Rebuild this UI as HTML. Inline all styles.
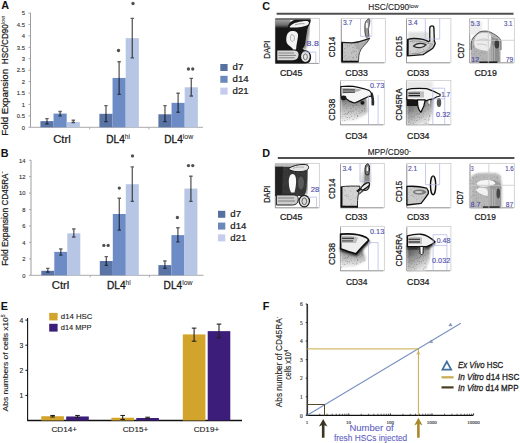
<!DOCTYPE html>
<html><head><meta charset="utf-8"><title>Figure</title>
<style>html,body{margin:0;padding:0;background:#fff;overflow:hidden;}svg{display:block;}
text{font-family:"Liberation Sans",sans-serif;paint-order:stroke;}</style></head>
<body>
<svg width="520" height="443" viewBox="0 0 520 443">
<rect width="520" height="443" fill="#fff"/>
<defs><filter id="sb" x="-50%" y="-50%" width="200%" height="200%"><feGaussianBlur stdDeviation="0.35"/></filter></defs>
<text x="1.20" y="8.90" font-size="10.8" fill="#111" font-weight="bold">A</text>
<text x="0.80" y="156.80" font-size="10.8" fill="#111" font-weight="bold">B</text>
<text x="262.20" y="10.00" font-size="10.8" fill="#111" font-weight="bold">C</text>
<text x="262.20" y="156.80" font-size="10.8" fill="#111" font-weight="bold">D</text>
<text x="0.80" y="310.20" font-size="10.8" fill="#111" font-weight="bold">E</text>
<text x="262.80" y="310.40" font-size="10.8" fill="#111" font-weight="bold">F</text>
<line x1="30.50" y1="12.90" x2="30.50" y2="127.30" stroke="#939393" stroke-width="0.9" />
<line x1="30.50" y1="127.30" x2="203.00" y2="127.30" stroke="#a0a0a0" stroke-width="0.9" />
<line x1="28.50" y1="127.30" x2="30.50" y2="127.30" stroke="#a0a0a0" stroke-width="0.9" />
<text x="24.90" y="129.60" font-size="5.8" fill="#333" stroke="#333" stroke-width="0.12" text-anchor="end">0</text>
<line x1="28.50" y1="115.88" x2="30.50" y2="115.88" stroke="#a0a0a0" stroke-width="0.9" />
<text x="24.90" y="118.17" font-size="5.8" fill="#333" stroke="#333" stroke-width="0.12" text-anchor="end">0.5</text>
<line x1="28.50" y1="104.45" x2="30.50" y2="104.45" stroke="#a0a0a0" stroke-width="0.9" />
<text x="24.90" y="106.75" font-size="5.8" fill="#333" stroke="#333" stroke-width="0.12" text-anchor="end">1</text>
<line x1="28.50" y1="93.02" x2="30.50" y2="93.02" stroke="#a0a0a0" stroke-width="0.9" />
<text x="24.90" y="95.32" font-size="5.8" fill="#333" stroke="#333" stroke-width="0.12" text-anchor="end">1.5</text>
<line x1="28.50" y1="81.60" x2="30.50" y2="81.60" stroke="#a0a0a0" stroke-width="0.9" />
<text x="24.90" y="83.90" font-size="5.8" fill="#333" stroke="#333" stroke-width="0.12" text-anchor="end">2</text>
<line x1="28.50" y1="70.17" x2="30.50" y2="70.17" stroke="#a0a0a0" stroke-width="0.9" />
<text x="24.90" y="72.47" font-size="5.8" fill="#333" stroke="#333" stroke-width="0.12" text-anchor="end">2.5</text>
<line x1="28.50" y1="58.75" x2="30.50" y2="58.75" stroke="#a0a0a0" stroke-width="0.9" />
<text x="24.90" y="61.05" font-size="5.8" fill="#333" stroke="#333" stroke-width="0.12" text-anchor="end">3</text>
<line x1="28.50" y1="47.32" x2="30.50" y2="47.32" stroke="#a0a0a0" stroke-width="0.9" />
<text x="24.90" y="49.62" font-size="5.8" fill="#333" stroke="#333" stroke-width="0.12" text-anchor="end">3.5</text>
<line x1="28.50" y1="35.90" x2="30.50" y2="35.90" stroke="#a0a0a0" stroke-width="0.9" />
<text x="24.90" y="38.20" font-size="5.8" fill="#333" stroke="#333" stroke-width="0.12" text-anchor="end">4</text>
<line x1="28.50" y1="24.47" x2="30.50" y2="24.47" stroke="#a0a0a0" stroke-width="0.9" />
<text x="24.90" y="26.77" font-size="5.8" fill="#333" stroke="#333" stroke-width="0.12" text-anchor="end">4.5</text>
<line x1="28.50" y1="13.05" x2="30.50" y2="13.05" stroke="#a0a0a0" stroke-width="0.9" />
<text x="24.90" y="15.35" font-size="5.8" fill="#333" stroke="#333" stroke-width="0.12" text-anchor="end">5</text>
<line x1="89.70" y1="127.30" x2="89.70" y2="129.30" stroke="#a0a0a0" stroke-width="0.9" />
<line x1="148.90" y1="127.30" x2="148.90" y2="129.30" stroke="#a0a0a0" stroke-width="0.9" />
<rect x="40.40" y="121.13" width="13.15" height="6.17" fill="#5b74a6" />
<rect x="53.55" y="113.59" width="13.15" height="13.71" fill="#6d8cc6" />
<rect x="66.70" y="122.04" width="13.15" height="5.26" fill="#b7c6e4" />
<rect x="99.40" y="113.82" width="13.15" height="13.48" fill="#5b74a6" />
<rect x="112.55" y="77.94" width="13.15" height="49.36" fill="#6d8cc6" />
<rect x="125.70" y="38.18" width="13.15" height="89.12" fill="#b7c6e4" />
<rect x="158.40" y="114.28" width="13.15" height="13.02" fill="#5b74a6" />
<rect x="171.55" y="102.85" width="13.15" height="24.45" fill="#6d8cc6" />
<rect x="184.70" y="87.31" width="13.15" height="39.99" fill="#b7c6e4" />
<path d="M46.98,118.62 L46.98,123.87 M45.27,118.62 L48.68,118.62 M45.27,123.87 L48.68,123.87" stroke="#000" stroke-opacity="0.62" stroke-width="1.35" fill="none"/>
<path d="M60.12,111.53 L60.12,115.88 M58.42,111.53 L61.83,111.53 M58.42,115.88 L61.83,115.88" stroke="#000" stroke-opacity="0.62" stroke-width="1.35" fill="none"/>
<path d="M73.28,120.22 L73.28,122.50 M71.58,120.22 L74.98,120.22 M71.58,122.50 L74.98,122.50" stroke="#000" stroke-opacity="0.62" stroke-width="1.35" fill="none"/>
<path d="M105.98,105.59 L105.98,121.59 M104.28,105.59 L107.68,105.59 M104.28,121.59 L107.68,121.59" stroke="#000" stroke-opacity="0.62" stroke-width="1.35" fill="none"/>
<path d="M119.13,61.72 L119.13,94.40 M117.43,61.72 L120.83,61.72 M117.43,94.40 L120.83,94.40" stroke="#000" stroke-opacity="0.62" stroke-width="1.35" fill="none"/>
<path d="M132.28,18.31 L132.28,57.84 M130.58,18.31 L133.97,18.31 M130.58,57.84 L133.97,57.84" stroke="#000" stroke-opacity="0.62" stroke-width="1.35" fill="none"/>
<path d="M164.97,105.59 L164.97,121.59 M163.28,105.59 L166.67,105.59 M163.28,121.59 L166.67,121.59" stroke="#000" stroke-opacity="0.62" stroke-width="1.35" fill="none"/>
<path d="M178.12,93.25 L178.12,112.22 M176.43,93.25 L179.82,93.25 M176.43,112.22 L179.82,112.22" stroke="#000" stroke-opacity="0.62" stroke-width="1.35" fill="none"/>
<path d="M191.28,78.40 L191.28,96.00 M189.58,78.40 L192.97,78.40 M189.58,96.00 L192.97,96.00" stroke="#000" stroke-opacity="0.62" stroke-width="1.35" fill="none"/>
<circle cx="118.50" cy="50.50" r="1.65" fill="#505050" filter="url(#sb)"/>
<circle cx="133.00" cy="3.50" r="1.65" fill="#505050" filter="url(#sb)"/>
<circle cx="188.45" cy="69.00" r="1.65" fill="#505050" filter="url(#sb)"/>
<circle cx="192.75" cy="69.00" r="1.65" fill="#505050" filter="url(#sb)"/>
<text x="53.20" y="142.60" font-size="10" fill="#1a1a1a" stroke="#1a1a1a" stroke-width="0.24" textLength="17.6" lengthAdjust="spacingAndGlyphs">Ctrl</text>
<text x="106.20" y="142.6" font-size="10" fill="#1a1a1a" stroke="#1a1a1a" stroke-width="0.3"><tspan textLength="18.6" lengthAdjust="spacingAndGlyphs">DL4</tspan><tspan font-size="6.6" dy="-4" stroke-width="0.05">hi</tspan></text>
<text x="164.20" y="142.6" font-size="10" fill="#1a1a1a" stroke="#1a1a1a" stroke-width="0.3"><tspan textLength="18.6" lengthAdjust="spacingAndGlyphs">DL4</tspan><tspan font-size="6.9" dy="-4" stroke-width="0.05">low</tspan></text>
<rect x="220.30" y="64.00" width="7.30" height="7.00" fill="#56709f" />
<text x="232.60" y="70.30" font-size="9.6" fill="#1a1a1a" stroke="#1a1a1a" stroke-width="0.24">d7</text>
<rect x="220.30" y="75.80" width="7.30" height="7.00" fill="#6b88bb" />
<text x="232.60" y="82.10" font-size="9.6" fill="#1a1a1a" stroke="#1a1a1a" stroke-width="0.24">d14</text>
<rect x="220.30" y="87.60" width="7.30" height="7.00" fill="#c6ccee" />
<text x="232.60" y="93.90" font-size="9.6" fill="#1a1a1a" stroke="#1a1a1a" stroke-width="0.24">d21</text>
<text transform="translate(7.70,135.80) rotate(-90)" font-size="9.2" fill="#1a1a1a" stroke="#1a1a1a" stroke-width="0.24" textLength="66.90" lengthAdjust="spacingAndGlyphs">Fold Expansion</text>
<text transform="translate(7.70,64.20) rotate(-90)" font-size="9.2" fill="#1a1a1a" stroke="#1a1a1a" stroke-width="0.24" textLength="40.00" lengthAdjust="spacingAndGlyphs">HSC/CD90</text>
<text transform="translate(4.60,23.90) rotate(-90)" font-size="5.6" fill="#1a1a1a" stroke="#1a1a1a" stroke-width="0.05" textLength="7.80" lengthAdjust="spacingAndGlyphs">low</text>
<line x1="31.00" y1="160.10" x2="31.00" y2="275.30" stroke="#939393" stroke-width="0.9" />
<line x1="31.00" y1="275.30" x2="203.50" y2="275.30" stroke="#a0a0a0" stroke-width="0.9" />
<line x1="29.00" y1="275.30" x2="31.00" y2="275.30" stroke="#a0a0a0" stroke-width="0.9" />
<text x="25.40" y="277.60" font-size="5.8" fill="#333" stroke="#333" stroke-width="0.12" text-anchor="end">0</text>
<line x1="29.00" y1="258.86" x2="31.00" y2="258.86" stroke="#a0a0a0" stroke-width="0.9" />
<text x="25.40" y="261.16" font-size="5.8" fill="#333" stroke="#333" stroke-width="0.12" text-anchor="end">2</text>
<line x1="29.00" y1="242.42" x2="31.00" y2="242.42" stroke="#a0a0a0" stroke-width="0.9" />
<text x="25.40" y="244.72" font-size="5.8" fill="#333" stroke="#333" stroke-width="0.12" text-anchor="end">4</text>
<line x1="29.00" y1="225.98" x2="31.00" y2="225.98" stroke="#a0a0a0" stroke-width="0.9" />
<text x="25.40" y="228.28" font-size="5.8" fill="#333" stroke="#333" stroke-width="0.12" text-anchor="end">6</text>
<line x1="29.00" y1="209.54" x2="31.00" y2="209.54" stroke="#a0a0a0" stroke-width="0.9" />
<text x="25.40" y="211.84" font-size="5.8" fill="#333" stroke="#333" stroke-width="0.12" text-anchor="end">8</text>
<line x1="29.00" y1="193.10" x2="31.00" y2="193.10" stroke="#a0a0a0" stroke-width="0.9" />
<text x="25.40" y="195.40" font-size="5.8" fill="#333" stroke="#333" stroke-width="0.12" text-anchor="end">10</text>
<line x1="29.00" y1="176.66" x2="31.00" y2="176.66" stroke="#a0a0a0" stroke-width="0.9" />
<text x="25.40" y="178.96" font-size="5.8" fill="#333" stroke="#333" stroke-width="0.12" text-anchor="end">12</text>
<line x1="29.00" y1="160.22" x2="31.00" y2="160.22" stroke="#a0a0a0" stroke-width="0.9" />
<text x="25.40" y="162.52" font-size="5.8" fill="#333" stroke="#333" stroke-width="0.12" text-anchor="end">14</text>
<line x1="90.20" y1="275.30" x2="90.20" y2="277.30" stroke="#a0a0a0" stroke-width="0.9" />
<line x1="149.40" y1="275.30" x2="149.40" y2="277.30" stroke="#a0a0a0" stroke-width="0.9" />
<rect x="41.30" y="270.78" width="13.00" height="4.52" fill="#5b74a6" />
<rect x="54.30" y="251.87" width="13.00" height="23.43" fill="#6d8cc6" />
<rect x="67.30" y="233.38" width="13.00" height="41.92" fill="#b7c6e4" />
<rect x="99.80" y="261.00" width="13.00" height="14.30" fill="#5b74a6" />
<rect x="112.80" y="213.98" width="13.00" height="61.32" fill="#6d8cc6" />
<rect x="125.80" y="184.22" width="13.00" height="91.08" fill="#b7c6e4" />
<rect x="158.40" y="265.11" width="13.00" height="10.19" fill="#5b74a6" />
<rect x="171.40" y="235.10" width="13.00" height="40.20" fill="#6d8cc6" />
<rect x="184.40" y="188.58" width="13.00" height="86.72" fill="#b7c6e4" />
<path d="M47.80,268.31 L47.80,272.09 M46.10,268.31 L49.50,268.31 M46.10,272.09 L49.50,272.09" stroke="#000" stroke-opacity="0.62" stroke-width="1.35" fill="none"/>
<path d="M60.80,249.00 L60.80,255.08 M59.10,249.00 L62.50,249.00 M59.10,255.08 L62.50,255.08" stroke="#000" stroke-opacity="0.62" stroke-width="1.35" fill="none"/>
<path d="M73.80,229.02 L73.80,236.99 M72.10,229.02 L75.50,229.02 M72.10,236.99 L75.50,236.99" stroke="#000" stroke-opacity="0.62" stroke-width="1.35" fill="none"/>
<path d="M106.30,256.56 L106.30,265.44 M104.60,256.56 L108.00,256.56 M104.60,265.44 L108.00,265.44" stroke="#000" stroke-opacity="0.62" stroke-width="1.35" fill="none"/>
<path d="M119.30,198.28 L119.30,230.09 M117.60,198.28 L121.00,198.28 M117.60,230.09 L121.00,230.09" stroke="#000" stroke-opacity="0.62" stroke-width="1.35" fill="none"/>
<path d="M132.30,166.80 L132.30,201.32 M130.60,166.80 L134.00,166.80 M130.60,201.32 L134.00,201.32" stroke="#000" stroke-opacity="0.62" stroke-width="1.35" fill="none"/>
<path d="M164.90,261.00 L164.90,268.40 M163.20,261.00 L166.60,261.00 M163.20,268.40 L166.60,268.40" stroke="#000" stroke-opacity="0.62" stroke-width="1.35" fill="none"/>
<path d="M177.90,227.79 L177.90,241.84 M176.20,227.79 L179.60,227.79 M176.20,241.84 L179.60,241.84" stroke="#000" stroke-opacity="0.62" stroke-width="1.35" fill="none"/>
<path d="M190.90,176.25 L190.90,201.32 M189.20,176.25 L192.60,176.25 M189.20,201.32 L192.60,201.32" stroke="#000" stroke-opacity="0.62" stroke-width="1.35" fill="none"/>
<circle cx="103.85" cy="245.40" r="1.65" fill="#505050" filter="url(#sb)"/>
<circle cx="108.15" cy="245.40" r="1.65" fill="#505050" filter="url(#sb)"/>
<circle cx="119.30" cy="188.10" r="1.65" fill="#505050" filter="url(#sb)"/>
<circle cx="132.50" cy="155.90" r="1.65" fill="#505050" filter="url(#sb)"/>
<circle cx="177.40" cy="217.50" r="1.65" fill="#505050" filter="url(#sb)"/>
<circle cx="188.45" cy="165.60" r="1.65" fill="#505050" filter="url(#sb)"/>
<circle cx="192.75" cy="165.60" r="1.65" fill="#505050" filter="url(#sb)"/>
<text x="51.80" y="288.90" font-size="10" fill="#1a1a1a" stroke="#1a1a1a" stroke-width="0.24" textLength="17.6" lengthAdjust="spacingAndGlyphs">Ctrl</text>
<text x="107.00" y="288.9" font-size="10" fill="#1a1a1a" stroke="#1a1a1a" stroke-width="0.3"><tspan textLength="18.6" lengthAdjust="spacingAndGlyphs">DL4</tspan><tspan font-size="6.6" dy="-4" stroke-width="0.05">hi</tspan></text>
<text x="163.60" y="288.9" font-size="10" fill="#1a1a1a" stroke="#1a1a1a" stroke-width="0.3"><tspan textLength="18.6" lengthAdjust="spacingAndGlyphs">DL4</tspan><tspan font-size="6.9" dy="-4" stroke-width="0.05">low</tspan></text>
<rect x="218.00" y="210.80" width="7.30" height="7.00" fill="#56709f" />
<text x="230.30" y="217.10" font-size="9.6" fill="#1a1a1a" stroke="#1a1a1a" stroke-width="0.24">d7</text>
<rect x="218.00" y="222.60" width="7.30" height="7.00" fill="#6b88bb" />
<text x="230.30" y="228.90" font-size="9.6" fill="#1a1a1a" stroke="#1a1a1a" stroke-width="0.24">d14</text>
<rect x="218.00" y="234.40" width="7.30" height="7.00" fill="#c6ccee" />
<text x="230.30" y="240.70" font-size="9.6" fill="#1a1a1a" stroke="#1a1a1a" stroke-width="0.24">d21</text>
<text transform="translate(7.50,265.80) rotate(-90)" font-size="8.6" fill="#1a1a1a" stroke="#1a1a1a" stroke-width="0.24" textLength="58.00" lengthAdjust="spacingAndGlyphs">Fold Expansion</text>
<text transform="translate(7.50,205.40) rotate(-90)" font-size="8.6" fill="#1a1a1a" stroke="#1a1a1a" stroke-width="0.24" textLength="31.80" lengthAdjust="spacingAndGlyphs">CD45RA</text>
<text transform="translate(4.20,173.60) rotate(-90)" font-size="5.6" fill="#1a1a1a" stroke="#1a1a1a" stroke-width="0.05" textLength="2.60" lengthAdjust="spacingAndGlyphs">-</text>
<line x1="27.60" y1="318.00" x2="27.60" y2="420.50" stroke="#111" stroke-width="1.1" />
<line x1="27.10" y1="420.50" x2="242.00" y2="420.50" stroke="#111" stroke-width="1.4" />
<line x1="25.40" y1="395.40" x2="27.60" y2="395.40" stroke="#111" stroke-width="1" />
<text x="23.40" y="397.80" font-size="6.8" fill="#222" stroke="#222" stroke-width="0.12" text-anchor="end">1</text>
<line x1="25.40" y1="370.30" x2="27.60" y2="370.30" stroke="#111" stroke-width="1" />
<text x="23.40" y="372.70" font-size="6.8" fill="#222" stroke="#222" stroke-width="0.12" text-anchor="end">2</text>
<line x1="25.40" y1="345.20" x2="27.60" y2="345.20" stroke="#111" stroke-width="1" />
<text x="23.40" y="347.60" font-size="6.8" fill="#222" stroke="#222" stroke-width="0.12" text-anchor="end">3</text>
<line x1="25.40" y1="320.10" x2="27.60" y2="320.10" stroke="#111" stroke-width="1" />
<text x="23.40" y="322.50" font-size="6.8" fill="#222" stroke="#222" stroke-width="0.12" text-anchor="end">4</text>
<rect x="41.30" y="416.23" width="22.60" height="4.27" fill="#d2a42b" />
<rect x="66.20" y="416.48" width="22.60" height="4.02" fill="#3c1d7a" />
<rect x="111.40" y="417.74" width="22.60" height="2.76" fill="#d2a42b" />
<rect x="136.30" y="417.99" width="22.60" height="2.51" fill="#3c1d7a" />
<rect x="182.80" y="334.41" width="22.60" height="86.09" fill="#d2a42b" />
<rect x="207.70" y="331.14" width="22.60" height="89.36" fill="#3c1d7a" />
<line x1="52.60" y1="415.48" x2="52.60" y2="416.99" stroke="#222" stroke-width="1.1" />
<line x1="50.30" y1="415.48" x2="54.90" y2="415.48" stroke="#222" stroke-width="1.1" />
<line x1="50.30" y1="416.99" x2="54.90" y2="416.99" stroke="#222" stroke-width="1.1" />
<line x1="77.50" y1="415.48" x2="77.50" y2="417.49" stroke="#222" stroke-width="1.1" />
<line x1="75.20" y1="415.48" x2="79.80" y2="415.48" stroke="#222" stroke-width="1.1" />
<line x1="75.20" y1="417.49" x2="79.80" y2="417.49" stroke="#222" stroke-width="1.1" />
<line x1="122.70" y1="415.48" x2="122.70" y2="419.50" stroke="#222" stroke-width="1.1" />
<line x1="120.40" y1="415.48" x2="125.00" y2="415.48" stroke="#222" stroke-width="1.1" />
<line x1="120.40" y1="419.50" x2="125.00" y2="419.50" stroke="#222" stroke-width="1.1" />
<line x1="147.60" y1="417.24" x2="147.60" y2="418.74" stroke="#222" stroke-width="1.1" />
<line x1="145.30" y1="417.24" x2="149.90" y2="417.24" stroke="#222" stroke-width="1.1" />
<line x1="145.30" y1="418.74" x2="149.90" y2="418.74" stroke="#222" stroke-width="1.1" />
<line x1="194.10" y1="328.13" x2="194.10" y2="341.18" stroke="#222" stroke-width="1.1" />
<line x1="191.80" y1="328.13" x2="196.40" y2="328.13" stroke="#222" stroke-width="1.1" />
<line x1="191.80" y1="341.18" x2="196.40" y2="341.18" stroke="#222" stroke-width="1.1" />
<line x1="219.00" y1="324.12" x2="219.00" y2="337.67" stroke="#222" stroke-width="1.1" />
<line x1="216.70" y1="324.12" x2="221.30" y2="324.12" stroke="#222" stroke-width="1.1" />
<line x1="216.70" y1="337.67" x2="221.30" y2="337.67" stroke="#222" stroke-width="1.1" />
<text x="64.20" y="432.20" font-size="7.0" fill="#1a1a1a" stroke="#1a1a1a" stroke-width="0.12" text-anchor="middle" textLength="25.5" lengthAdjust="spacingAndGlyphs">CD14+</text>
<text x="135.50" y="432.20" font-size="7.0" fill="#1a1a1a" stroke="#1a1a1a" stroke-width="0.12" text-anchor="middle" textLength="25.5" lengthAdjust="spacingAndGlyphs">CD15+</text>
<text x="206.40" y="432.20" font-size="7.0" fill="#1a1a1a" stroke="#1a1a1a" stroke-width="0.12" text-anchor="middle" textLength="25.5" lengthAdjust="spacingAndGlyphs">CD19+</text>
<rect x="49.20" y="312.90" width="8.40" height="7.50" fill="#d2a42b" />
<rect x="49.20" y="323.80" width="8.40" height="7.80" fill="#3c1d7a" />
<text x="60.80" y="319.00" font-size="7.6" fill="#1a1a1a" stroke="#1a1a1a" stroke-width="0.12" textLength="31.6" lengthAdjust="spacingAndGlyphs">d14 HSC</text>
<text x="60.80" y="330.00" font-size="7.6" fill="#1a1a1a" stroke="#1a1a1a" stroke-width="0.12" textLength="30.6" lengthAdjust="spacingAndGlyphs">d14 MPP</text>
<text transform="translate(8.20,362.90) rotate(-90)" font-size="8.0" fill="#1a1a1a" stroke="#1a1a1a" stroke-width="0.12" text-anchor="middle" textLength="97" lengthAdjust="spacingAndGlyphs">Abs numbers of cells x10<tspan font-size="4.8" dy="-3">5</tspan></text>
<line x1="307.20" y1="304.10" x2="307.20" y2="415.30" stroke="#111" stroke-width="1.3" />
<line x1="307.20" y1="413.44" x2="308.40" y2="413.44" stroke="#333" stroke-width="0.4" />
<line x1="307.20" y1="411.59" x2="308.40" y2="411.59" stroke="#333" stroke-width="0.4" />
<line x1="307.20" y1="409.74" x2="308.40" y2="409.74" stroke="#333" stroke-width="0.4" />
<line x1="307.20" y1="407.88" x2="308.40" y2="407.88" stroke="#333" stroke-width="0.4" />
<line x1="307.20" y1="406.03" x2="308.40" y2="406.03" stroke="#333" stroke-width="0.4" />
<line x1="307.20" y1="404.17" x2="308.40" y2="404.17" stroke="#333" stroke-width="0.4" />
<line x1="307.20" y1="402.31" x2="308.40" y2="402.31" stroke="#333" stroke-width="0.4" />
<line x1="307.20" y1="400.46" x2="308.40" y2="400.46" stroke="#333" stroke-width="0.4" />
<line x1="307.20" y1="398.61" x2="308.40" y2="398.61" stroke="#333" stroke-width="0.4" />
<line x1="307.20" y1="396.75" x2="308.40" y2="396.75" stroke="#333" stroke-width="0.4" />
<line x1="307.20" y1="394.89" x2="308.40" y2="394.89" stroke="#333" stroke-width="0.4" />
<line x1="307.20" y1="393.04" x2="308.40" y2="393.04" stroke="#333" stroke-width="0.4" />
<line x1="307.20" y1="391.19" x2="308.40" y2="391.19" stroke="#333" stroke-width="0.4" />
<line x1="307.20" y1="389.33" x2="308.40" y2="389.33" stroke="#333" stroke-width="0.4" />
<line x1="307.20" y1="387.48" x2="308.40" y2="387.48" stroke="#333" stroke-width="0.4" />
<line x1="307.20" y1="385.62" x2="308.40" y2="385.62" stroke="#333" stroke-width="0.4" />
<line x1="307.20" y1="383.76" x2="308.40" y2="383.76" stroke="#333" stroke-width="0.4" />
<line x1="307.20" y1="381.91" x2="308.40" y2="381.91" stroke="#333" stroke-width="0.4" />
<line x1="307.20" y1="380.06" x2="308.40" y2="380.06" stroke="#333" stroke-width="0.4" />
<line x1="307.20" y1="378.20" x2="308.40" y2="378.20" stroke="#333" stroke-width="0.4" />
<line x1="307.20" y1="376.35" x2="308.40" y2="376.35" stroke="#333" stroke-width="0.4" />
<line x1="307.20" y1="374.49" x2="308.40" y2="374.49" stroke="#333" stroke-width="0.4" />
<line x1="307.20" y1="372.63" x2="308.40" y2="372.63" stroke="#333" stroke-width="0.4" />
<line x1="307.20" y1="370.78" x2="308.40" y2="370.78" stroke="#333" stroke-width="0.4" />
<line x1="307.20" y1="368.93" x2="308.40" y2="368.93" stroke="#333" stroke-width="0.4" />
<line x1="307.20" y1="367.07" x2="308.40" y2="367.07" stroke="#333" stroke-width="0.4" />
<line x1="307.20" y1="365.22" x2="308.40" y2="365.22" stroke="#333" stroke-width="0.4" />
<line x1="307.20" y1="363.36" x2="308.40" y2="363.36" stroke="#333" stroke-width="0.4" />
<line x1="307.20" y1="361.50" x2="308.40" y2="361.50" stroke="#333" stroke-width="0.4" />
<line x1="307.20" y1="359.65" x2="308.40" y2="359.65" stroke="#333" stroke-width="0.4" />
<line x1="307.20" y1="357.80" x2="308.40" y2="357.80" stroke="#333" stroke-width="0.4" />
<line x1="307.20" y1="355.94" x2="308.40" y2="355.94" stroke="#333" stroke-width="0.4" />
<line x1="307.20" y1="354.09" x2="308.40" y2="354.09" stroke="#333" stroke-width="0.4" />
<line x1="307.20" y1="352.23" x2="308.40" y2="352.23" stroke="#333" stroke-width="0.4" />
<line x1="307.20" y1="350.38" x2="308.40" y2="350.38" stroke="#333" stroke-width="0.4" />
<line x1="307.20" y1="348.52" x2="308.40" y2="348.52" stroke="#333" stroke-width="0.4" />
<line x1="307.20" y1="346.67" x2="308.40" y2="346.67" stroke="#333" stroke-width="0.4" />
<line x1="307.20" y1="344.81" x2="308.40" y2="344.81" stroke="#333" stroke-width="0.4" />
<line x1="307.20" y1="342.96" x2="308.40" y2="342.96" stroke="#333" stroke-width="0.4" />
<line x1="307.20" y1="341.10" x2="308.40" y2="341.10" stroke="#333" stroke-width="0.4" />
<line x1="307.20" y1="339.25" x2="308.40" y2="339.25" stroke="#333" stroke-width="0.4" />
<line x1="307.20" y1="337.39" x2="308.40" y2="337.39" stroke="#333" stroke-width="0.4" />
<line x1="307.20" y1="335.54" x2="308.40" y2="335.54" stroke="#333" stroke-width="0.4" />
<line x1="307.20" y1="333.68" x2="308.40" y2="333.68" stroke="#333" stroke-width="0.4" />
<line x1="307.20" y1="331.83" x2="308.40" y2="331.83" stroke="#333" stroke-width="0.4" />
<line x1="307.20" y1="329.97" x2="308.40" y2="329.97" stroke="#333" stroke-width="0.4" />
<line x1="307.20" y1="328.12" x2="308.40" y2="328.12" stroke="#333" stroke-width="0.4" />
<line x1="307.20" y1="326.26" x2="308.40" y2="326.26" stroke="#333" stroke-width="0.4" />
<line x1="307.20" y1="324.40" x2="308.40" y2="324.40" stroke="#333" stroke-width="0.4" />
<line x1="307.20" y1="322.55" x2="308.40" y2="322.55" stroke="#333" stroke-width="0.4" />
<line x1="307.20" y1="320.69" x2="308.40" y2="320.69" stroke="#333" stroke-width="0.4" />
<line x1="307.20" y1="318.84" x2="308.40" y2="318.84" stroke="#333" stroke-width="0.4" />
<line x1="307.20" y1="316.99" x2="308.40" y2="316.99" stroke="#333" stroke-width="0.4" />
<line x1="307.20" y1="315.13" x2="308.40" y2="315.13" stroke="#333" stroke-width="0.4" />
<line x1="307.20" y1="313.27" x2="308.40" y2="313.27" stroke="#333" stroke-width="0.4" />
<line x1="307.20" y1="311.42" x2="308.40" y2="311.42" stroke="#333" stroke-width="0.4" />
<line x1="307.20" y1="309.56" x2="308.40" y2="309.56" stroke="#333" stroke-width="0.4" />
<line x1="307.20" y1="307.71" x2="308.40" y2="307.71" stroke="#333" stroke-width="0.4" />
<line x1="307.20" y1="305.86" x2="308.40" y2="305.86" stroke="#333" stroke-width="0.4" />
<line x1="306.60" y1="415.30" x2="473.30" y2="415.30" stroke="#111" stroke-width="1.3" />
<line x1="305.70" y1="415.30" x2="307.20" y2="415.30" stroke="#111" stroke-width="0.8" />
<text x="302.80" y="417.50" font-size="5.4" fill="#333" stroke="#333" stroke-width="0.15" text-anchor="end" style="font-family:&quot;Liberation Serif&quot;,serif">0</text>
<line x1="305.70" y1="396.75" x2="307.20" y2="396.75" stroke="#111" stroke-width="0.8" />
<text x="302.80" y="398.95" font-size="5.4" fill="#333" stroke="#333" stroke-width="0.15" text-anchor="end" style="font-family:&quot;Liberation Serif&quot;,serif">1</text>
<line x1="305.70" y1="378.20" x2="307.20" y2="378.20" stroke="#111" stroke-width="0.8" />
<text x="302.80" y="380.40" font-size="5.4" fill="#333" stroke="#333" stroke-width="0.15" text-anchor="end" style="font-family:&quot;Liberation Serif&quot;,serif">2</text>
<line x1="305.70" y1="359.65" x2="307.20" y2="359.65" stroke="#111" stroke-width="0.8" />
<text x="302.80" y="361.85" font-size="5.4" fill="#333" stroke="#333" stroke-width="0.15" text-anchor="end" style="font-family:&quot;Liberation Serif&quot;,serif">3</text>
<line x1="305.70" y1="341.10" x2="307.20" y2="341.10" stroke="#111" stroke-width="0.8" />
<text x="302.80" y="343.30" font-size="5.4" fill="#333" stroke="#333" stroke-width="0.15" text-anchor="end" style="font-family:&quot;Liberation Serif&quot;,serif">4</text>
<line x1="305.70" y1="322.55" x2="307.20" y2="322.55" stroke="#111" stroke-width="0.8" />
<text x="302.80" y="324.75" font-size="5.4" fill="#333" stroke="#333" stroke-width="0.15" text-anchor="end" style="font-family:&quot;Liberation Serif&quot;,serif">5</text>
<line x1="305.70" y1="304.00" x2="307.20" y2="304.00" stroke="#111" stroke-width="0.8" />
<text x="302.80" y="306.20" font-size="5.4" fill="#333" stroke="#333" stroke-width="0.15" text-anchor="end" style="font-family:&quot;Liberation Serif&quot;,serif">6</text>
<line x1="319.72" y1="413.70" x2="319.72" y2="415.30" stroke="#111" stroke-width="0.6" />
<line x1="327.05" y1="413.70" x2="327.05" y2="415.30" stroke="#111" stroke-width="0.6" />
<line x1="332.25" y1="413.70" x2="332.25" y2="415.30" stroke="#111" stroke-width="0.6" />
<line x1="336.28" y1="413.70" x2="336.28" y2="415.30" stroke="#111" stroke-width="0.6" />
<line x1="339.57" y1="413.70" x2="339.57" y2="415.30" stroke="#111" stroke-width="0.6" />
<line x1="342.36" y1="413.70" x2="342.36" y2="415.30" stroke="#111" stroke-width="0.6" />
<line x1="344.77" y1="413.70" x2="344.77" y2="415.30" stroke="#111" stroke-width="0.6" />
<line x1="346.90" y1="413.70" x2="346.90" y2="415.30" stroke="#111" stroke-width="0.6" />
<line x1="361.32" y1="413.70" x2="361.32" y2="415.30" stroke="#111" stroke-width="0.6" />
<line x1="368.65" y1="413.70" x2="368.65" y2="415.30" stroke="#111" stroke-width="0.6" />
<line x1="373.85" y1="413.70" x2="373.85" y2="415.30" stroke="#111" stroke-width="0.6" />
<line x1="377.88" y1="413.70" x2="377.88" y2="415.30" stroke="#111" stroke-width="0.6" />
<line x1="381.17" y1="413.70" x2="381.17" y2="415.30" stroke="#111" stroke-width="0.6" />
<line x1="383.96" y1="413.70" x2="383.96" y2="415.30" stroke="#111" stroke-width="0.6" />
<line x1="386.37" y1="413.70" x2="386.37" y2="415.30" stroke="#111" stroke-width="0.6" />
<line x1="388.50" y1="413.70" x2="388.50" y2="415.30" stroke="#111" stroke-width="0.6" />
<line x1="402.92" y1="413.70" x2="402.92" y2="415.30" stroke="#111" stroke-width="0.6" />
<line x1="410.25" y1="413.70" x2="410.25" y2="415.30" stroke="#111" stroke-width="0.6" />
<line x1="415.45" y1="413.70" x2="415.45" y2="415.30" stroke="#111" stroke-width="0.6" />
<line x1="419.48" y1="413.70" x2="419.48" y2="415.30" stroke="#111" stroke-width="0.6" />
<line x1="422.77" y1="413.70" x2="422.77" y2="415.30" stroke="#111" stroke-width="0.6" />
<line x1="425.56" y1="413.70" x2="425.56" y2="415.30" stroke="#111" stroke-width="0.6" />
<line x1="427.97" y1="413.70" x2="427.97" y2="415.30" stroke="#111" stroke-width="0.6" />
<line x1="430.10" y1="413.70" x2="430.10" y2="415.30" stroke="#111" stroke-width="0.6" />
<line x1="444.52" y1="413.70" x2="444.52" y2="415.30" stroke="#111" stroke-width="0.6" />
<line x1="451.85" y1="413.70" x2="451.85" y2="415.30" stroke="#111" stroke-width="0.6" />
<line x1="457.05" y1="413.70" x2="457.05" y2="415.30" stroke="#111" stroke-width="0.6" />
<line x1="461.08" y1="413.70" x2="461.08" y2="415.30" stroke="#111" stroke-width="0.6" />
<line x1="464.37" y1="413.70" x2="464.37" y2="415.30" stroke="#111" stroke-width="0.6" />
<line x1="467.16" y1="413.70" x2="467.16" y2="415.30" stroke="#111" stroke-width="0.6" />
<line x1="469.57" y1="413.70" x2="469.57" y2="415.30" stroke="#111" stroke-width="0.6" />
<line x1="471.70" y1="413.70" x2="471.70" y2="415.30" stroke="#111" stroke-width="0.6" />
<line x1="307.20" y1="413.30" x2="307.20" y2="415.30" stroke="#111" stroke-width="0.8" />
<text x="307.00" y="423.8" font-size="5.0" fill="#333" stroke="#333" stroke-width="0.12" text-anchor="middle" style="font-family:&quot;Liberation Serif&quot;,serif">1</text>
<line x1="348.80" y1="413.30" x2="348.80" y2="415.30" stroke="#111" stroke-width="0.8" />
<text x="348.60" y="423.8" font-size="5.0" fill="#333" stroke="#333" stroke-width="0.12" text-anchor="middle" style="font-family:&quot;Liberation Serif&quot;,serif">10</text>
<line x1="390.40" y1="413.30" x2="390.40" y2="415.30" stroke="#111" stroke-width="0.8" />
<text x="390.20" y="423.8" font-size="5.0" fill="#333" stroke="#333" stroke-width="0.12" text-anchor="middle" style="font-family:&quot;Liberation Serif&quot;,serif">100</text>
<line x1="432.00" y1="413.30" x2="432.00" y2="415.30" stroke="#111" stroke-width="0.8" />
<text x="431.80" y="423.8" font-size="5.0" fill="#333" stroke="#333" stroke-width="0.12" text-anchor="middle" style="font-family:&quot;Liberation Serif&quot;,serif">1000</text>
<line x1="473.60" y1="413.30" x2="473.60" y2="415.30" stroke="#111" stroke-width="0.8" />
<text x="473.40" y="423.8" font-size="5.0" fill="#333" stroke="#333" stroke-width="0.12" text-anchor="middle" style="font-family:&quot;Liberation Serif&quot;,serif">10000</text>
<line x1="307.20" y1="415.30" x2="460.80" y2="323.30" stroke="#7890c0" stroke-width="1.05" />
<line x1="307.20" y1="348.90" x2="418.40" y2="348.90" stroke="#c8aa4c" stroke-width="1.0" />
<line x1="418.40" y1="348.90" x2="418.40" y2="415.30" stroke="#c8aa4c" stroke-width="1.0" />
<line x1="307.20" y1="404.50" x2="324.50" y2="404.50" stroke="#584a26" stroke-width="1.0" />
<line x1="324.50" y1="404.50" x2="324.50" y2="415.30" stroke="#584a26" stroke-width="1.0" />
<path d="M448.8,325.9 L450.5,323.0 L452.2,325.9 Z" fill="#8593ba" stroke="#8593ba" stroke-width="0.4"/>
<path d="M429.5,342.7 L431.2,339.8 L432.9,342.7 Z" fill="#8593ba" stroke="#8593ba" stroke-width="0.4"/>
<path d="M416.9,354.5 L418.4,351.8 L419.9,354.5" fill="none" stroke="#c8aa4c" stroke-width="0.9"/>
<path d="M319.0,426.6 L323.2,419.0 L327.4,426.6 L324.5,425.2 L324.5,437.8 L321.9,437.8 L321.9,425.2 Z" fill="#3b3422"/>
<path d="M414.2,425.4 L418.4,417.8 L422.6,425.4 L419.7,424.0 L419.7,437.8 L417.1,437.8 L417.1,424.0 Z" fill="#a88a2c"/>
<text x="371.6" y="431.3" font-size="9.8" fill="#5d60c4" stroke="#5d60c4" stroke-width="0.1" text-anchor="middle" textLength="44.2" lengthAdjust="spacingAndGlyphs">Number of</text>
<text x="370.6" y="440.6" font-size="9.8" fill="#5d60c4" stroke="#5d60c4" stroke-width="0.1" text-anchor="middle" textLength="73.3" lengthAdjust="spacingAndGlyphs">fresh HSCs injected</text>
<text transform="translate(282.40,362.00) rotate(-90)" font-size="8.3" fill="#1a1a1a" stroke="#1a1a1a" stroke-width="0.12" text-anchor="middle">Abs number of CD45RA<tspan font-size="4.5" dy="-3">-</tspan></text>
<text transform="translate(291.40,365.00) rotate(-90)" font-size="8.3" fill="#1a1a1a" stroke="#1a1a1a" stroke-width="0.12" text-anchor="middle" textLength="29.6" lengthAdjust="spacingAndGlyphs">cells x10<tspan font-size="4.5" dy="-3">4</tspan></text>
<path d="M442.4,369.6 L446.8,361.6 L451.2,369.6 Z" fill="none" stroke="#3f6f9e" stroke-width="1.7" stroke-linejoin="miter"/>
<line x1="441.50" y1="377.30" x2="453.60" y2="377.30" stroke="#c8aa50" stroke-width="2.2" />
<line x1="441.50" y1="387.40" x2="453.60" y2="387.40" stroke="#4a3c22" stroke-width="2.2" />
<text x="458" y="367.6" font-size="9.6" fill="#1a1a1a" stroke="#1a1a1a" stroke-width="0.3" textLength="45.3" lengthAdjust="spacingAndGlyphs"><tspan font-style="italic">Ex Vivo</tspan> HSC</text>
<text x="458" y="380.0" font-size="9.6" fill="#1a1a1a" stroke="#1a1a1a" stroke-width="0.3" textLength="61.4" lengthAdjust="spacingAndGlyphs"><tspan font-style="italic">In Vitro</tspan> d14 HSC</text>
<text x="458" y="390.5" font-size="9.6" fill="#1a1a1a" stroke="#1a1a1a" stroke-width="0.3" textLength="60.5" lengthAdjust="spacingAndGlyphs"><tspan font-style="italic">In Vitro</tspan> d14 MPP</text>
<line x1="276.60" y1="13.80" x2="513.50" y2="13.80" stroke="#505050" stroke-width="1.9" />
<line x1="277.80" y1="158.00" x2="514.40" y2="158.00" stroke="#505050" stroke-width="1.9" />
<text x="368.2" y="10.4" font-size="8.6" fill="#1a1a1a" stroke="#1a1a1a" stroke-width="0.12"><tspan textLength="41" lengthAdjust="spacingAndGlyphs">HSC/CD90</tspan><tspan font-size="6.1" dy="-2.6" stroke-width="0.05">low</tspan></text>
<text x="367.7" y="155.4" font-size="8.6" fill="#1a1a1a" stroke="#1a1a1a" stroke-width="0.12"><tspan textLength="41" lengthAdjust="spacingAndGlyphs">MPP/CD90</tspan><tspan font-size="6.5" dy="-2.6" stroke-width="0.05">-</tspan></text>
<defs><filter id="bl" x="-20%" y="-20%" width="140%" height="140%"><feGaussianBlur stdDeviation="0.4"/></filter><filter id="bl2" x="-30%" y="-30%" width="160%" height="160%"><feGaussianBlur stdDeviation="1.2"/></filter><filter id="bl3" x="-30%" y="-30%" width="160%" height="160%"><feGaussianBlur stdDeviation="2.2"/></filter><pattern id="spk" width="24" height="24" patternUnits="userSpaceOnUse"><circle cx="0.5" cy="1.2" r="0.32" fill="#3a3a3a"/><circle cx="0.8" cy="2.4" r="0.43" fill="#3a3a3a"/><circle cx="0.9" cy="4.4" r="0.32" fill="#3a3a3a"/><circle cx="1.5" cy="6.5" r="0.36" fill="#3a3a3a"/><circle cx="1.7" cy="14.4" r="0.51" fill="#3a3a3a"/><circle cx="0.5" cy="16.5" r="0.38" fill="#3a3a3a"/><circle cx="1.1" cy="21.2" r="0.39" fill="#3a3a3a"/><circle cx="0.4" cy="22.4" r="0.35" fill="#3a3a3a"/><circle cx="2.7" cy="3.1" r="0.41" fill="#3a3a3a"/><circle cx="3.4" cy="5.3" r="0.36" fill="#3a3a3a"/><circle cx="3.5" cy="9.3" r="0.37" fill="#3a3a3a"/><circle cx="2.9" cy="13.4" r="0.34" fill="#3a3a3a"/><circle cx="2.4" cy="15.2" r="0.49" fill="#3a3a3a"/><circle cx="3.3" cy="21.1" r="0.44" fill="#3a3a3a"/><circle cx="3.5" cy="23.6" r="0.42" fill="#3a3a3a"/><circle cx="5.3" cy="3.2" r="0.55" fill="#3a3a3a"/><circle cx="4.8" cy="7.2" r="0.31" fill="#3a3a3a"/><circle cx="4.5" cy="8.5" r="0.31" fill="#3a3a3a"/><circle cx="4.6" cy="12.8" r="0.52" fill="#3a3a3a"/><circle cx="4.9" cy="15.1" r="0.52" fill="#3a3a3a"/><circle cx="4.9" cy="20.8" r="0.52" fill="#3a3a3a"/><circle cx="6.5" cy="0.6" r="0.36" fill="#3a3a3a"/><circle cx="7.1" cy="2.7" r="0.30" fill="#3a3a3a"/><circle cx="6.8" cy="5.1" r="0.54" fill="#3a3a3a"/><circle cx="7.2" cy="9.2" r="0.31" fill="#3a3a3a"/><circle cx="6.9" cy="18.4" r="0.46" fill="#3a3a3a"/><circle cx="6.4" cy="20.6" r="0.34" fill="#3a3a3a"/><circle cx="6.4" cy="22.3" r="0.34" fill="#3a3a3a"/><circle cx="8.8" cy="0.3" r="0.52" fill="#3a3a3a"/><circle cx="8.7" cy="4.8" r="0.39" fill="#3a3a3a"/><circle cx="9.5" cy="7.7" r="0.42" fill="#3a3a3a"/><circle cx="8.4" cy="8.4" r="0.39" fill="#3a3a3a"/><circle cx="9.5" cy="10.5" r="0.31" fill="#3a3a3a"/><circle cx="8.5" cy="15.1" r="0.31" fill="#3a3a3a"/><circle cx="9.7" cy="17.5" r="0.47" fill="#3a3a3a"/><circle cx="8.8" cy="18.5" r="0.49" fill="#3a3a3a"/><circle cx="9.4" cy="20.8" r="0.36" fill="#3a3a3a"/><circle cx="11.0" cy="10.8" r="0.31" fill="#3a3a3a"/><circle cx="10.7" cy="12.7" r="0.47" fill="#3a3a3a"/><circle cx="11.6" cy="17.7" r="0.54" fill="#3a3a3a"/><circle cx="10.6" cy="18.6" r="0.35" fill="#3a3a3a"/><circle cx="11.2" cy="21.6" r="0.51" fill="#3a3a3a"/><circle cx="11.2" cy="23.4" r="0.32" fill="#3a3a3a"/><circle cx="12.5" cy="9.4" r="0.38" fill="#3a3a3a"/><circle cx="12.9" cy="15.6" r="0.48" fill="#3a3a3a"/><circle cx="12.5" cy="16.5" r="0.53" fill="#3a3a3a"/><circle cx="13.5" cy="21.7" r="0.46" fill="#3a3a3a"/><circle cx="13.1" cy="22.5" r="0.30" fill="#3a3a3a"/><circle cx="15.6" cy="4.9" r="0.52" fill="#3a3a3a"/><circle cx="14.7" cy="8.7" r="0.36" fill="#3a3a3a"/><circle cx="14.9" cy="12.5" r="0.53" fill="#3a3a3a"/><circle cx="14.9" cy="15.1" r="0.53" fill="#3a3a3a"/><circle cx="15.6" cy="17.0" r="0.43" fill="#3a3a3a"/><circle cx="14.3" cy="18.9" r="0.35" fill="#3a3a3a"/><circle cx="15.4" cy="20.5" r="0.42" fill="#3a3a3a"/><circle cx="17.0" cy="3.1" r="0.50" fill="#3a3a3a"/><circle cx="17.1" cy="4.6" r="0.37" fill="#3a3a3a"/><circle cx="17.1" cy="9.4" r="0.53" fill="#3a3a3a"/><circle cx="17.2" cy="11.0" r="0.43" fill="#3a3a3a"/><circle cx="17.0" cy="15.0" r="0.54" fill="#3a3a3a"/><circle cx="17.1" cy="23.6" r="0.51" fill="#3a3a3a"/><circle cx="18.5" cy="0.9" r="0.32" fill="#3a3a3a"/><circle cx="18.4" cy="3.2" r="0.50" fill="#3a3a3a"/><circle cx="19.3" cy="7.2" r="0.34" fill="#3a3a3a"/><circle cx="19.6" cy="12.9" r="0.42" fill="#3a3a3a"/><circle cx="18.9" cy="19.0" r="0.38" fill="#3a3a3a"/><circle cx="18.7" cy="21.3" r="0.30" fill="#3a3a3a"/><circle cx="20.3" cy="0.8" r="0.46" fill="#3a3a3a"/><circle cx="20.4" cy="3.7" r="0.50" fill="#3a3a3a"/><circle cx="20.7" cy="6.4" r="0.49" fill="#3a3a3a"/><circle cx="20.5" cy="8.9" r="0.53" fill="#3a3a3a"/><circle cx="20.5" cy="13.6" r="0.44" fill="#3a3a3a"/><circle cx="20.4" cy="17.3" r="0.41" fill="#3a3a3a"/><circle cx="21.6" cy="19.2" r="0.50" fill="#3a3a3a"/><circle cx="21.5" cy="20.4" r="0.52" fill="#3a3a3a"/><circle cx="20.8" cy="23.1" r="0.53" fill="#3a3a3a"/><circle cx="22.5" cy="1.0" r="0.36" fill="#3a3a3a"/><circle cx="22.5" cy="2.4" r="0.35" fill="#3a3a3a"/><circle cx="22.7" cy="5.4" r="0.37" fill="#3a3a3a"/><circle cx="22.5" cy="6.8" r="0.30" fill="#3a3a3a"/><circle cx="22.3" cy="9.3" r="0.44" fill="#3a3a3a"/><circle cx="23.0" cy="11.6" r="0.33" fill="#3a3a3a"/><circle cx="23.0" cy="15.5" r="0.40" fill="#3a3a3a"/><circle cx="23.3" cy="17.7" r="0.39" fill="#3a3a3a"/></pattern><pattern id="spk2" width="22" height="22" patternUnits="userSpaceOnUse"><circle cx="0.9" cy="0.4" r="0.33" fill="#555"/><circle cx="1.5" cy="2.9" r="0.34" fill="#555"/><circle cx="1.6" cy="6.1" r="0.47" fill="#555"/><circle cx="0.7" cy="7.4" r="0.41" fill="#555"/><circle cx="1.0" cy="9.5" r="0.54" fill="#555"/><circle cx="1.8" cy="16.2" r="0.39" fill="#555"/><circle cx="0.9" cy="18.7" r="0.43" fill="#555"/><circle cx="1.1" cy="20.1" r="0.37" fill="#555"/><circle cx="3.1" cy="0.4" r="0.31" fill="#555"/><circle cx="2.9" cy="3.4" r="0.43" fill="#555"/><circle cx="3.0" cy="15.0" r="0.34" fill="#555"/><circle cx="3.8" cy="21.5" r="0.46" fill="#555"/><circle cx="5.5" cy="5.5" r="0.51" fill="#555"/><circle cx="4.8" cy="20.3" r="0.39" fill="#555"/><circle cx="8.2" cy="1.2" r="0.46" fill="#555"/><circle cx="8.2" cy="10.3" r="0.43" fill="#555"/><circle cx="8.1" cy="16.1" r="0.32" fill="#555"/><circle cx="8.1" cy="18.2" r="0.48" fill="#555"/><circle cx="9.9" cy="3.6" r="0.49" fill="#555"/><circle cx="9.4" cy="9.5" r="0.49" fill="#555"/><circle cx="10.0" cy="11.3" r="0.32" fill="#555"/><circle cx="10.2" cy="14.6" r="0.47" fill="#555"/><circle cx="9.9" cy="16.4" r="0.42" fill="#555"/><circle cx="10.5" cy="18.2" r="0.54" fill="#555"/><circle cx="12.0" cy="1.6" r="0.54" fill="#555"/><circle cx="11.7" cy="2.9" r="0.54" fill="#555"/><circle cx="12.2" cy="4.9" r="0.43" fill="#555"/><circle cx="12.6" cy="9.9" r="0.52" fill="#555"/><circle cx="12.7" cy="14.3" r="0.31" fill="#555"/><circle cx="12.1" cy="16.4" r="0.38" fill="#555"/><circle cx="11.9" cy="18.4" r="0.51" fill="#555"/><circle cx="12.5" cy="21.4" r="0.33" fill="#555"/><circle cx="14.1" cy="7.5" r="0.55" fill="#555"/><circle cx="14.2" cy="11.8" r="0.31" fill="#555"/><circle cx="14.8" cy="14.0" r="0.53" fill="#555"/><circle cx="13.9" cy="16.5" r="0.35" fill="#555"/><circle cx="15.0" cy="19.3" r="0.50" fill="#555"/><circle cx="16.9" cy="9.8" r="0.49" fill="#555"/><circle cx="15.8" cy="15.0" r="0.33" fill="#555"/><circle cx="16.2" cy="19.1" r="0.54" fill="#555"/><circle cx="16.7" cy="20.6" r="0.44" fill="#555"/><circle cx="18.2" cy="0.6" r="0.35" fill="#555"/><circle cx="19.3" cy="8.5" r="0.41" fill="#555"/><circle cx="18.2" cy="9.3" r="0.39" fill="#555"/><circle cx="18.3" cy="11.7" r="0.44" fill="#555"/><circle cx="18.6" cy="18.7" r="0.39" fill="#555"/><circle cx="18.0" cy="20.6" r="0.54" fill="#555"/><circle cx="20.9" cy="1.3" r="0.52" fill="#555"/><circle cx="20.5" cy="2.9" r="0.40" fill="#555"/><circle cx="21.6" cy="6.0" r="0.52" fill="#555"/><circle cx="20.2" cy="8.0" r="0.52" fill="#555"/><circle cx="20.7" cy="15.0" r="0.51" fill="#555"/><circle cx="20.3" cy="20.4" r="0.43" fill="#555"/></pattern><linearGradient id="gdown" x1="0" y1="0" x2="0" y2="1"><stop offset="0" stop-color="#5a5a5a"/><stop offset="0.35" stop-color="#a0a0a0"/><stop offset="1" stop-color="#f6f6f6"/></linearGradient><linearGradient id="gdown2" x1="0" y1="0" x2="0.5" y2="1"><stop offset="0" stop-color="#3a3a3a"/><stop offset="0.45" stop-color="#8a8a8a"/><stop offset="1" stop-color="#e6e6e6"/></linearGradient><linearGradient id="gC1" x1="0" y1="0" x2="0" y2="1"><stop offset="0" stop-color="#a0a0a0"/><stop offset="0.6" stop-color="#707070"/><stop offset="1" stop-color="#222"/></linearGradient><linearGradient id="gright" x1="0" y1="0" x2="1" y2="0"><stop offset="0" stop-color="#4a4a4a"/><stop offset="1" stop-color="#fff"/></linearGradient></defs>
<rect x="275.4" y="18.3" width="44.10" height="45.10" fill="none" stroke="#c4c4c4" stroke-width="0.7"/>
<path d="M275.4,19.3 L275.4,63.4 L318.5,63.4" fill="none" stroke="#8c8c8c" stroke-width="0.8"/>
<g filter="url(#bl)">
<path d="M307,21 C309,26 307,34 306,40 C305.5,44 305,47 303,49" fill="none" stroke="#888" stroke-width="4" stroke-linejoin="round" filter="url(#bl2)"/>
<rect x="275.4" y="18.3" width="35" height="1.6" fill="#5a5a5a"/>
<rect x="275.4" y="19.9" width="15" height="8" fill="url(#gC1)"/>
<path d="M275.4,27.6 L287.5,27.6 C288.5,24 290.5,20.3 296,19.7 L310.8,19.7 C311,23 308.2,26 307.4,29 C306.7,33 306.1,37 305.7,40 C305.3,44 304.7,46.5 302.6,48.6 L304,50 C308,50 311.6,53 311.1,57.5 C310.7,62 309,63.4 305,63.4 L275.4,63.4 Z" fill="#141414" stroke="none" stroke-width="1" stroke-linejoin="round" />
<path d="M290,26.2 C293,23 300,21.2 306.5,21.1 C309.3,21.2 309.6,23.2 308,24.8 C305,27 298,27.6 292,27.6 C289.8,27.5 289,26.9 290,26.2 Z" fill="#f0f0f0" stroke="none" stroke-width="1" stroke-linejoin="round" />
<path d="M295,24.9 C298,23.8 302,23.4 304.5,23.7" fill="none" stroke="#8a8a8a" stroke-width="0.8" stroke-linejoin="round" />
<path d="M292,30.9 C295.3,30.7 298.2,32.2 298.1,35.2 C297.8,39 296.8,43 296.4,46 L296.1,49.6 L293.2,49.6 C292.4,47.6 289.7,46.4 287.8,44.5 C285.8,42.3 286,38.3 286.8,35.3 C287.7,32.4 289.6,31 292,30.9 Z" fill="#f4f4f4" stroke="none" stroke-width="1" stroke-linejoin="round" />
<path d="M291.5,34.5 C293.8,34.5 294.7,36.8 294.4,39 C294.1,41.3 292.6,42 291.4,41.1 C290,40 290,36.4 291.5,34.5 Z" fill="none" stroke="#999" stroke-width="0.7" stroke-linejoin="round" />
<path d="M277.3,50.6 L294.5,50.6 C297.8,50.8 298.9,53.1 298.5,55.5 C298.1,58.4 296.4,60.2 293,60.2 L277.3,60.2 Z" fill="#d9d9d9" stroke="none" stroke-width="1" stroke-linejoin="round" />
<path d="M278.5,53.0 L294,53.0 M278.5,55.4 L296,55.4 M278.5,57.8 L294.5,57.8" fill="none" stroke="#777" stroke-width="0.9" stroke-linejoin="round" />
<ellipse cx="305.4" cy="56.6" rx="4.3" ry="5.3" fill="#e6e6e6"/>
<ellipse cx="305.4" cy="56.8" rx="2.0" ry="3.0" fill="none" stroke="#666" stroke-width="0.9"/>
</g>
<line x1="302.80" y1="52.10" x2="315.80" y2="52.10" stroke="#b0b4e2" stroke-width="0.7" />
<line x1="315.80" y1="52.10" x2="315.80" y2="63.40" stroke="#b0b4e2" stroke-width="0.7" />
<text x="306.60" y="46.00" font-size="6.4" fill="#4d4da8" stroke="#4d4da8" stroke-width="0.12" textLength="12.2" lengthAdjust="spacingAndGlyphs">8.8</text>
<rect x="341.3" y="18.3" width="44.00" height="44.50" fill="none" stroke="#c4c4c4" stroke-width="0.7"/>
<path d="M341.3,19.3 L341.3,62.8 L384.3,62.8" fill="none" stroke="#8c8c8c" stroke-width="0.8"/>
<g filter="url(#bl)">
<path d="M341.3,42.3 L352,42.8 C357,42.5 362,41 366,39.5 L369.9,38.0 C368.3,41 366.2,43.5 364.2,45.5 C361.7,48 359.7,51 358.9,55 L358.4,62.4 L341.3,62.4 Z" fill="#c2c2c2" stroke="none" stroke-width="1" stroke-linejoin="round" />
<path d="M341.3,42.3 L352,42.8 C357,42.5 362,41 366,39.5 L369.9,38.0 C368.3,41 366.2,43.5 364.2,45.5 C361.7,48 359.7,51 358.9,55 L358.4,62.4 L341.3,62.4 Z" fill="url(#spk)" stroke="none" stroke-width="1" stroke-linejoin="round" opacity="0.5"/>
<path d="M354,44.5 C358,43.8 362,42.3 366,40.6 L368.6,39.6 C367,41.8 365.3,43.6 363.8,45.0 C361.8,46.8 360.4,48.6 359.6,50.5 C357,48.8 355,46.5 354,44.5 Z" fill="#acacac" stroke="none" stroke-width="1" stroke-linejoin="round" />
<path d="M341.3,42.4 L352,42.9 C357,42.6 362,41.1 366,39.6 L369.9,38.1" fill="none" stroke="#1a1a1a" stroke-width="1.4" stroke-linejoin="round" />
<path d="M369.9,38.1 C368.3,41 366.2,43.5 364.2,45.5 C361.7,48 359.7,51 358.9,55 L358.4,62.4" fill="none" stroke="#3a3a3a" stroke-width="0.9" stroke-linejoin="round" />
<path d="M342.1,42.5 L342.1,61.6 L358.2,61.6" fill="none" stroke="#0e0e0e" stroke-width="1.8" stroke-linejoin="round" />
<path d="M364.5,29.6 L368.4,29.6 C368.5,32 368.9,34.5 369.4,37 L366,38.5 C365.2,35.5 364.6,32.5 364.5,29.6 Z" fill="#8c8c8c" stroke="none" stroke-width="1" stroke-linejoin="round" />
<path d="M369.1,18.7 C370.1,19.5 369.9,22 369.5,24.1 C369.1,26.5 368.4,28.5 368.4,29.6 C368.5,32 368.9,34 369.1,36.3 L365.7,36.3 C365.1,34 364.8,31.5 364.9,29.6 C364.6,26.5 364.7,24 365.6,21.8 C366.6,20 367.9,18.8 369.1,18.7 Z" fill="#9a9a9a" stroke="#2a2a2a" stroke-width="0.7" stroke-linejoin="round" />
<ellipse cx="366.9" cy="25.2" rx="1.1" ry="3.0" fill="#f6f6f6"/>
</g>
<line x1="360.50" y1="18.30" x2="360.50" y2="36.30" stroke="#b0b4e2" stroke-width="0.7" />
<line x1="360.50" y1="36.30" x2="371.80" y2="36.30" stroke="#b0b4e2" stroke-width="0.7" />
<line x1="371.80" y1="18.30" x2="371.80" y2="36.30" stroke="#b0b4e2" stroke-width="0.5" />
<text x="342.90" y="25.10" font-size="6.4" fill="#4d4da8" stroke="#4d4da8" stroke-width="0.12" textLength="9.3" lengthAdjust="spacingAndGlyphs">3.7</text>
<rect x="406.5" y="18.5" width="44.40" height="44.30" fill="none" stroke="#c4c4c4" stroke-width="0.7"/>
<path d="M406.5,19.5 L406.5,62.8 L449.9,62.8" fill="none" stroke="#8c8c8c" stroke-width="0.8"/>
<rect x="408" y="32" width="21" height="7" fill="#e0e0e0" filter="url(#bl2)"/>
<g filter="url(#bl)">
<path d="M407.7,39.4 C410,38.8 412,38.5 414,38.5 C417,38.5 420,38.8 423,39.4 C425,40 427,40.8 428.5,41.7 L429.8,40.8 L429.8,28.1 C429.8,26.8 430.9,25.9 432.1,25.9 C433.3,25.9 433.9,26.8 433.9,28.1 L434.3,40.8 C434.8,41.8 435.2,42.6 435.2,43.5 C434.6,45.3 433.8,46.7 433,48 C431.5,49.4 429.5,50.6 427.6,51.6 C426,52.7 424.5,53.8 423,54.7 L407.5,55.8 Z" fill="#cfcfcf" stroke="none" stroke-width="1" stroke-linejoin="round" />
<path d="M407.7,39.4 C410,38.8 412,38.5 414,38.5 C417,38.5 420,38.8 423,39.4 C425,40 427,40.8 428.5,41.7 L429.8,40.8 L429.8,28.1 C429.8,26.8 430.9,25.9 432.1,25.9 C433.3,25.9 433.9,26.8 433.9,28.1 L434.3,40.8 C434.8,41.8 435.2,42.6 435.2,43.5 C434.6,45.3 433.8,46.7 433,48 C431.5,49.4 429.5,50.6 427.6,51.6 C426,52.7 424.5,53.8 423,54.7 L407.5,55.8 Z" fill="url(#spk2)" stroke="none" stroke-width="1" stroke-linejoin="round" opacity="0.4"/>
<path d="M407.7,39.4 C410,38.8 412,38.5 414,38.5 C417,38.5 420,38.8 423,39.4 C425,40 427,40.8 428.5,41.7 L429.8,40.8 L429.8,28.1 C429.8,26.8 430.9,25.9 432.1,25.9 C433.3,25.9 433.9,26.8 433.9,28.1 L434.3,40.8 C434.8,41.8 435.2,42.6 435.2,43.5 C434.6,45.3 433.8,46.7 433,48 C431.5,49.4 429.5,50.6 427.6,51.6 C426,52.7 424.5,53.8 423,54.7 L407.5,55.8 Z" fill="none" stroke="#151515" stroke-width="1.35" stroke-linejoin="round" />
<path d="M409.5,41.5 C414,40.6 420,40.8 426,42.6 C428.5,43.6 430.5,44 432.6,43.8 C431.6,46.5 429,49 425.5,50.8 C423,52 420,53 417,53.5 L409.5,53.8" fill="none" stroke="#8a8a8a" stroke-width="0.7" stroke-linejoin="round" />
<path d="M430.7,28.5 C430.7,27.3 431.4,26.8 432,26.8 C432.7,26.8 433.0,27.4 433.0,28.5 L433.3,40.5 L430.7,40.8 Z" fill="#f0f0f0" stroke="none" stroke-width="1" stroke-linejoin="round" />
<path d="M413.5,46.2 C416,43.4 421,42.8 426,44.6 C424,47.2 419,49.2 413.5,46.2 Z" fill="#dcdcdc" stroke="#2a2a2a" stroke-width="1.2" stroke-linejoin="round" />
<path d="M407.9,39.6 L407.9,55.8" fill="none" stroke="#111" stroke-width="1.4" stroke-linejoin="round" />
</g>
<line x1="425.30" y1="18.50" x2="425.30" y2="39.00" stroke="#b0b4e2" stroke-width="0.7" />
<line x1="425.30" y1="39.00" x2="439.70" y2="39.00" stroke="#b0b4e2" stroke-width="0.7" />
<line x1="439.70" y1="18.50" x2="439.70" y2="39.00" stroke="#b0b4e2" stroke-width="0.7" />
<text x="407.90" y="25.10" font-size="6.4" fill="#4d4da8" stroke="#4d4da8" stroke-width="0.12" textLength="9.6" lengthAdjust="spacingAndGlyphs">3.4</text>
<rect x="469.7" y="18.3" width="44.60" height="44.50" fill="none" stroke="#c4c4c4" stroke-width="0.7"/>
<path d="M469.7,19.3 L469.7,62.8 L513.3,62.8" fill="none" stroke="#8c8c8c" stroke-width="0.8"/>
<rect x="470" y="21" width="12" height="14" fill="#ececec" filter="url(#bl2)"/>
<g filter="url(#bl)">
<path d="M470.8,62.8 L470.8,43 C471.5,39 473,37 475,35.4 C477,33.5 478.5,32.2 480.1,31.6 C482,31.1 484,31 486.1,31.1 C488.5,31.5 491,32.4 493,33.7 C495,34.8 496.5,36 498.1,37.1 C499.2,38.2 500,39.4 500.5,40.6 L500.6,62.8 Z" fill="#b4b4b4" stroke="none" stroke-width="1" stroke-linejoin="round" />
<path d="M470.8,62.8 L470.8,43 C471.5,39 473,37 475,35.4 C477,33.5 478.5,32.2 480.1,31.6 C482,31.1 484,31 486.1,31.1 C488.5,31.5 491,32.4 493,33.7 C495,34.8 496.5,36 498.1,37.1 C499.2,38.2 500,39.4 500.5,40.6 L500.6,62.8 Z" fill="url(#spk2)" stroke="none" stroke-width="1" stroke-linejoin="round" opacity="0.5"/>
<path d="M471.2,50 L471.2,43 C471.9,39 473.4,37 475.4,35.4 C477.4,33.5 478.9,32.2 480.5,31.6 C482.4,31.1 484.4,31 486.5,31.1 C488.9,31.5 491.4,32.4 493.4,33.7 C495.4,34.8 496.9,36 498.5,37.1 C499.6,38.2 500.4,39.4 500.9,40.6 L501,50" fill="none" stroke="#555" stroke-width="1.0" stroke-linejoin="round" />
<path d="M474.2,44 C474,39.5 476,35.6 479,33.8 C482,32.4 486,32.4 489.5,33.6 C491,34.5 491.5,37 491.2,40 C491,44 490,48 488.7,50.9 C485,51 480,50 476,48 C475,47 474.3,45.5 474.2,44 Z" fill="#ececec" stroke="none" stroke-width="1" stroke-linejoin="round" />
<path d="M478,40.5 C481,38.5 485,38.5 488,40 M477,44.5 C480,43.5 484,44 487,45.5" fill="none" stroke="#b0b0b0" stroke-width="0.6" stroke-linejoin="round" />
<path d="M491.5,37 C494,38 497,39 499,41 L499.6,62 L491.5,62 Z" fill="#8e8e8e" stroke="none" stroke-width="1" stroke-linejoin="round" />
<path d="M492.5,45 L492.5,61 M494.5,46 L494.5,61" fill="none" stroke="#cfcfcf" stroke-width="0.5" stroke-linejoin="round" />
<ellipse cx="496.9" cy="44" rx="2.3" ry="4.6" fill="#3a3a3a"/>
<rect x="479.3" y="61.5" width="18.2" height="1.4" fill="#111"/>
</g>
<line x1="488.30" y1="18.30" x2="488.30" y2="62.80" stroke="#c9c9c9" stroke-width="0.8" />
<line x1="469.70" y1="40.30" x2="514.30" y2="40.30" stroke="#c9c9c9" stroke-width="0.8" />
<text x="470.70" y="25.60" font-size="6.4" fill="#4d4da8" stroke="#4d4da8" stroke-width="0.12" textLength="9.2" lengthAdjust="spacingAndGlyphs">5.3</text>
<text x="504.00" y="25.60" font-size="6.4" fill="#4d4da8" stroke="#4d4da8" stroke-width="0.12" textLength="8.5" lengthAdjust="spacingAndGlyphs">3.1</text>
<text x="471.20" y="62.30" font-size="6.4" fill="#4d4da8" stroke="#4d4da8" stroke-width="0.12" textLength="7.9" lengthAdjust="spacingAndGlyphs">12</text>
<text x="505.70" y="62.30" font-size="6.4" fill="#4d4da8" stroke="#4d4da8" stroke-width="0.12" textLength="7.5" lengthAdjust="spacingAndGlyphs">79</text>
<rect x="340.5" y="80.5" width="43.80" height="44.30" fill="none" stroke="#c4c4c4" stroke-width="0.7"/>
<path d="M340.5,81.5 L340.5,124.8 L383.3,124.8" fill="none" stroke="#8c8c8c" stroke-width="0.8"/>
<path d="M340.8,96 C350,99 358,101 366,98 L368,112 C362,118 352,122 340.8,122 Z" fill="url(#gdown)" filter="url(#bl2)"/>
<path d="M340.8,96 C350,99 358,101 366,98 L368,112 C362,118 352,122 340.8,122 Z" fill="url(#spk)" opacity="0.55"/>
<g filter="url(#bl)">
<path d="M371.3,93.1 C372.5,96 373.2,100 372.8,105.4" fill="none" stroke="#2a2a2a" stroke-width="2.6" stroke-linejoin="round" />
<path d="M340.9,86.5 C344,86.3 346.5,86.2 349,86.2 C352,86.3 355,86.7 358.2,87.3 C360.5,87.8 362.5,88.3 364.4,88.8 C366,89.3 367.6,89.8 369,90.4 C370,91.2 370.8,92.1 371.3,93.1 L371.3,96.2 C369.8,96.4 368.6,96.7 367.5,97 C365,98.2 362.8,99.3 360.5,100.4 C358.5,101.5 356.5,102.4 354.4,103 C352.5,102.4 350.8,101.6 349,100.8 C347.2,99.5 345.4,98.2 343.6,97 L340.9,96 Z" fill="#f6f6f6" stroke="#111" stroke-width="1.2" stroke-linejoin="round" />
<path d="M341.5,88.2 C348,87.6 356,88.4 362,89.8 C358,92 352,93.5 341.5,93.4 Z" fill="#b5b5b5" stroke="none" stroke-width="1" stroke-linejoin="round" />
<path d="M343,89.9 L355,89.9" fill="none" stroke="#2a2a2a" stroke-width="1.0" stroke-linejoin="round" />
<path d="M343,92.2 L355,92.2" fill="none" stroke="#2a2a2a" stroke-width="1.0" stroke-linejoin="round" />
<ellipse cx="343.6" cy="97.8" rx="2.8" ry="2.4" fill="#151515"/>
<ellipse cx="362.4" cy="102.8" rx="2.0" ry="1.9" fill="#151515"/>
</g>
<line x1="368.50" y1="95.00" x2="368.50" y2="124.80" stroke="#b0b4e2" stroke-width="0.7" />
<line x1="378.10" y1="95.00" x2="378.10" y2="124.80" stroke="#b0b4e2" stroke-width="0.7" />
<text x="370.00" y="87.70" font-size="6.4" fill="#4d4da8" stroke="#4d4da8" stroke-width="0.12" textLength="14.2" lengthAdjust="spacingAndGlyphs">0.73</text>
<rect x="406.5" y="80.5" width="44.40" height="44.30" fill="none" stroke="#c4c4c4" stroke-width="0.7"/>
<path d="M406.5,81.5 L406.5,124.8 L449.9,124.8" fill="none" stroke="#8c8c8c" stroke-width="0.8"/>
<rect x="407" y="81" width="26" height="8" fill="#e8e8e8" filter="url(#bl2)"/>
<path d="M406.8,97 L433,97 C434,108 432,118 428,124.8 L406.8,124.8 Z" fill="url(#gdown2)" filter="url(#bl2)"/>
<path d="M406.8,97 L433,97 C434,108 432,118 428,124.8 L406.8,124.8 Z" fill="url(#spk)" opacity="0.5"/>
<g filter="url(#bl)">
<ellipse cx="439" cy="102.5" rx="2.2" ry="4.5" fill="#555"/>
<path d="M406.8,97.5 L418,97.5 L418,106 L406.8,106 Z" fill="#161616" stroke="none" stroke-width="1" stroke-linejoin="round" />
<path d="M406.8,89.9 C410,88.7 420,88.3 426.6,88.7 C431,90 436,92.5 440.1,94.4 L440,96 C437,96.5 434.5,98 433.4,98.9 C430,99.5 428,100 426.6,100.6 L406.8,99.6 Z" fill="#f5f5f5" stroke="#111" stroke-width="1.2" stroke-linejoin="round" />
<path d="M408,91.5 C412,90.8 418,90.8 424,91.5 L424,97.5 L408,97.5 Z" fill="#c0c0c0" stroke="none" stroke-width="1" stroke-linejoin="round" />
<path d="M408.5,93.2 L420,93.2" fill="none" stroke="#222" stroke-width="1.1" stroke-linejoin="round" />
<path d="M408.5,95.6 L420,95.6" fill="none" stroke="#1a1a1a" stroke-width="1.3" stroke-linejoin="round" />
<path d="M417.4,99.8 L425.2,99.8 C424.8,104 423.6,108 421,112.2 C419.3,111 418.2,108 417.7,105 Z" fill="#fbfbfb" stroke="#111" stroke-width="1.3" stroke-linejoin="round" />
<ellipse cx="429.2" cy="102" rx="0.8" ry="2" fill="#fff"/>
</g>
<line x1="432.80" y1="88.20" x2="444.70" y2="88.20" stroke="#b0b4e2" stroke-width="0.7" />
<line x1="432.80" y1="88.20" x2="432.80" y2="124.80" stroke="#b0b4e2" stroke-width="0.7" />
<line x1="444.70" y1="88.20" x2="444.70" y2="124.80" stroke="#b0b4e2" stroke-width="0.7" />
<line x1="432.80" y1="98.90" x2="444.70" y2="98.90" stroke="#b0b4e2" stroke-width="0.7" />
<text x="441.20" y="96.60" font-size="6.4" fill="#4d4da8" stroke="#4d4da8" stroke-width="0.12" textLength="8.9" lengthAdjust="spacingAndGlyphs">1.7</text>
<text x="436.10" y="116.60" font-size="6.4" fill="#4d4da8" stroke="#4d4da8" stroke-width="0.12" textLength="14.1" lengthAdjust="spacingAndGlyphs">0.32</text>
<rect x="275.3" y="163.3" width="44.00" height="44.50" fill="none" stroke="#c4c4c4" stroke-width="0.7"/>
<path d="M275.3,164.3 L275.3,207.8 L318.3,207.8" fill="none" stroke="#8c8c8c" stroke-width="0.8"/>
<g filter="url(#bl)">
<path d="M306,168 C307.5,176 307,186 305,194" fill="none" stroke="#999" stroke-width="4" stroke-linejoin="round" filter="url(#bl2)"/>
<rect x="275.3" y="163.3" width="33" height="3.6" fill="#bdbdbd"/>
<path d="M275.3,166.8 L307.4,166.8 C307.6,172 307.1,180 306.6,188 C306.1,192 305.1,195 303,196 L275.3,196 Z" fill="#363636" stroke="none" stroke-width="1" stroke-linejoin="round" />
<path d="M275.3,166.8 L307.4,166.8 C307.6,172 307.1,180 306.6,188 C306.1,192 305.1,195 303,196 L275.3,196 Z" fill="url(#spk2)" stroke="none" stroke-width="1" stroke-linejoin="round" opacity="0.6"/>
<path d="M275.3,166.8 L283,166.8 L282,196 L275.3,196 Z" fill="#242424" stroke="none" stroke-width="1" stroke-linejoin="round" />
<ellipse cx="301" cy="183" rx="3.0" ry="6.5" fill="#5a5a5a"/>
<path d="M288.2,168.8 C292,166 298,164.3 304,164.4 C307.5,164.6 309,166 308.5,168 C308,170.5 304,171.7 298,171.7 C293.5,171.7 290,170.3 288.2,168.8 Z" fill="#e4e4e4" stroke="#1e1e1e" stroke-width="1.0" stroke-linejoin="round" />
<path d="M293,168.4 C296,167 300,166.6 304,167.2" fill="none" stroke="#999" stroke-width="0.7" stroke-linejoin="round" />
<path d="M292.5,174 C295,174 296.3,177 296.1,182 C295.9,187 295,190 294.5,192.5 L291,192.5 C290,190 288.8,187 288.8,182 C288.8,177.5 290.2,174 292.5,174 Z" fill="#fafafa" stroke="none" stroke-width="1" stroke-linejoin="round" />
<path d="M276.4,194.9 L294,194.9 C297.5,195.2 298.5,197.5 298.2,200 C297.9,203 296,205 292.5,205 L276.4,205 Z" fill="#cdcdcd" stroke="#222" stroke-width="1.0" stroke-linejoin="round" />
<path d="M278,198 L294,198 M278,201 L295,201" fill="none" stroke="#777" stroke-width="0.9" stroke-linejoin="round" />
<ellipse cx="304.3" cy="201.1" rx="5.2" ry="5.8" fill="#dcdcdc" stroke="#1e1e1e" stroke-width="1.2"/>
<ellipse cx="304.3" cy="201.3" rx="2.3" ry="3.3" fill="none" stroke="#555" stroke-width="0.9"/>
</g>
<line x1="308.00" y1="197.10" x2="316.50" y2="197.10" stroke="#b0b4e2" stroke-width="0.7" />
<line x1="316.50" y1="197.10" x2="316.50" y2="207.30" stroke="#b0b4e2" stroke-width="0.7" />
<text x="310.70" y="191.60" font-size="6.4" fill="#4d4da8" stroke="#4d4da8" stroke-width="0.12" textLength="8.5" lengthAdjust="spacingAndGlyphs">28</text>
<rect x="340.5" y="163.5" width="43.80" height="44.30" fill="none" stroke="#c4c4c4" stroke-width="0.7"/>
<path d="M340.5,164.5 L340.5,207.8 L383.3,207.8" fill="none" stroke="#8c8c8c" stroke-width="0.8"/>
<ellipse cx="365.5" cy="179" rx="4" ry="8" fill="#c0c0c0" filter="url(#bl3)"/>
<g filter="url(#bl)">
<path d="M340.7,186.6 C347,185.9 354,186 360,186.2 C359,191 357.8,196 357.6,200.5 L357.4,207.5 L340.7,207.5 Z" fill="#d4d4d4" stroke="none" stroke-width="1" stroke-linejoin="round" />
<path d="M340.7,186.6 C347,185.9 354,186 360,186.2 C359,191 357.8,196 357.6,200.5 L357.4,207.5 L340.7,207.5 Z" fill="url(#spk2)" stroke="none" stroke-width="1" stroke-linejoin="round" opacity="0.45"/>
<path d="M357,191.5 C359.5,189.5 361.5,188.5 363.2,187.5" fill="none" stroke="#1a1a1a" stroke-width="1.8" stroke-linejoin="round" />
<path d="M359,194 C361,192 362.5,191 364,190.3" fill="none" stroke="#555" stroke-width="1.2" stroke-linejoin="round" />
<ellipse cx="366" cy="186.8" rx="2.9" ry="3.6" fill="#eeeeee" stroke="#1a1a1a" stroke-width="1.3" transform="rotate(25 366 186.8)"/>
<path d="M340.7,186.8 C347,185.9 354,186 360,186.2 C359,191 357.8,196 357.6,200.5 L357.4,207.3" fill="none" stroke="#2a2a2a" stroke-width="1.0" stroke-linejoin="round" />
<path d="M341.5,186.9 L341.5,206.8 L358,206.8" fill="none" stroke="#0e0e0e" stroke-width="1.9" stroke-linejoin="round" />
<path d="M364.6,174 L369.6,174 L369.8,183 L364.2,184 Z" fill="#8a8a8a" stroke="none" stroke-width="1" stroke-linejoin="round" filter="url(#bl)"/>
<path d="M365.3,174 C364.8,171 364.8,168 365.6,165.8 C366.1,164.5 367,163.8 367.9,163.9 C369.3,164.3 369.7,166.5 369.5,169 C369.4,171 369.2,172.8 369.0,174.5 C367.8,175.2 366.3,175 365.3,174 Z" fill="#7a7a7a" stroke="#1e1e1e" stroke-width="1.0" stroke-linejoin="round" />
<path d="M366.6,171 C366.4,169 366.7,167.2 367.5,166.2 C368.2,167 368.2,169 368,171 Z" fill="#f2f2f2" stroke="none" stroke-width="1" stroke-linejoin="round" />
<path d="M357,191.5 C359,190 360.5,189.2 361.8,188.6" fill="none" stroke="#1a1a1a" stroke-width="1.8" stroke-linejoin="round" />
<path d="M359,194 C360.5,192.5 361.8,191.6 363,191" fill="none" stroke="#555" stroke-width="1.2" stroke-linejoin="round" />
<ellipse cx="365.2" cy="186.3" rx="5.2" ry="2.0" fill="#eeeeee" stroke="#1a1a1a" stroke-width="1.3" transform="rotate(-38 365.2 186.3)"/>
</g>
<line x1="360.00" y1="163.50" x2="360.00" y2="181.30" stroke="#b0b4e2" stroke-width="0.7" />
<line x1="360.00" y1="181.30" x2="370.80" y2="181.30" stroke="#b0b4e2" stroke-width="0.7" />
<line x1="370.80" y1="163.50" x2="370.80" y2="181.30" stroke="#b0b4e2" stroke-width="0.5" />
<text x="342.40" y="170.60" font-size="6.4" fill="#4d4da8" stroke="#4d4da8" stroke-width="0.12" textLength="9.2" lengthAdjust="spacingAndGlyphs">3.4</text>
<rect x="406.8" y="163.5" width="44.10" height="44.30" fill="none" stroke="#c4c4c4" stroke-width="0.7"/>
<path d="M406.8,164.5 L406.8,207.8 L449.9,207.8" fill="none" stroke="#8c8c8c" stroke-width="0.8"/>
<g filter="url(#bl)">
<path d="M406.9,186.4 C414,185.9 421,186.6 426.6,188.1 C428,189.6 428.6,191.6 428.3,193.7 C426.2,197 423.2,200.4 421.1,203.3 L406.9,205 Z" fill="#cbcbcb" stroke="none" stroke-width="1" stroke-linejoin="round" />
<path d="M406.9,186.4 C414,185.9 421,186.6 426.6,188.1 C428,189.6 428.6,191.6 428.3,193.7 C426.2,197 423.2,200.4 421.1,203.3 L406.9,205 Z" fill="url(#spk2)" stroke="none" stroke-width="1" stroke-linejoin="round" opacity="0.45"/>
<path d="M406.9,186.4 C414,185.9 421,186.6 426.6,188.1 C428,189.6 428.6,191.6 428.3,193.7 C426.2,197 423.2,200.4 421.1,203.3 L406.9,205 Z" fill="none" stroke="#111" stroke-width="1.3" stroke-linejoin="round" />
<ellipse cx="419.5" cy="192.1" rx="6.6" ry="2.6" fill="#7a7a7a"/>
<ellipse cx="418.8" cy="192.1" rx="3.8" ry="1.1" fill="#d0d0d0"/>
<ellipse cx="433.1" cy="185.3" rx="2.6" ry="9.4" fill="#f2f2f2" stroke="#111" stroke-width="1.4"/>
</g>
<line x1="425.50" y1="163.50" x2="425.50" y2="184.70" stroke="#b0b4e2" stroke-width="0.7" />
<line x1="425.50" y1="184.70" x2="439.60" y2="184.70" stroke="#b0b4e2" stroke-width="0.7" />
<line x1="439.60" y1="163.50" x2="439.60" y2="184.70" stroke="#b0b4e2" stroke-width="0.7" />
<text x="407.90" y="170.60" font-size="6.4" fill="#4d4da8" stroke="#4d4da8" stroke-width="0.12" textLength="9.2" lengthAdjust="spacingAndGlyphs">2.1</text>
<rect x="470.0" y="163.3" width="44.30" height="44.50" fill="none" stroke="#c4c4c4" stroke-width="0.7"/>
<path d="M470.0,164.3 L470.0,207.8 L513.3,207.8" fill="none" stroke="#8c8c8c" stroke-width="0.8"/>
<path d="M470.3,207.8 L470.3,178 C472,174 478,172.5 484,173 C490,173.5 496,172 500,175 C502,179 502,190 501.8,207.8 Z" fill="#b8b8b8" filter="url(#bl2)"/>
<path d="M470.3,207.8 L470.3,178 C472,174 478,172.5 484,173 C490,173.5 496,172 500,175 C502,179 502,190 501.8,207.8 Z" fill="url(#spk)" opacity="0.35"/>
<g filter="url(#bl)">
<path d="M488,180 C493,179.5 498,181 501,184 L501,207.8 L488,207.8 Z" fill="#9a9a9a" stroke="none" stroke-width="1" stroke-linejoin="round" />
<path d="M490,188 L490,206 M492.5,189 L492.5,206 M494.8,190 L494.8,206" fill="none" stroke="#cfcfcf" stroke-width="0.5" stroke-linejoin="round" />
<ellipse cx="498.3" cy="193.5" rx="1.8" ry="5.0" fill="#444"/>
<path d="M476.5,183.5 C478.5,180.5 484,179.6 490.5,180.2 C493,180.6 495,182 495.4,183.8 C492.5,185.6 488,186.6 483.5,186.8 C480,186.8 477.5,185.5 476.5,183.5 Z" fill="#f5f5f5" stroke="none" stroke-width="1" stroke-linejoin="round" />
<path d="M475.8,190 C477.5,187.6 482,187.4 486.5,188.5 C488,190.5 488.3,193.5 487.5,196 C483,195.5 478.5,193 475.8,190 Z" fill="#f1f1f1" stroke="none" stroke-width="1" stroke-linejoin="round" />
<rect x="482.9" y="206.4" width="16.7" height="1.3" fill="#111"/>
</g>
<line x1="488.90" y1="163.30" x2="488.90" y2="207.80" stroke="#c9c9c9" stroke-width="0.8" />
<line x1="470.00" y1="185.30" x2="514.30" y2="185.30" stroke="#c9c9c9" stroke-width="0.8" />
<text x="470.80" y="170.60" font-size="6.4" fill="#4d4da8" stroke="#4d4da8" stroke-width="0.12" textLength="2.9" lengthAdjust="spacingAndGlyphs">3</text>
<text x="505.20" y="170.60" font-size="6.4" fill="#4d4da8" stroke="#4d4da8" stroke-width="0.12" textLength="8.5" lengthAdjust="spacingAndGlyphs">1.6</text>
<text x="470.40" y="207.30" font-size="6.4" fill="#4d4da8" stroke="#4d4da8" stroke-width="0.12" textLength="10" lengthAdjust="spacingAndGlyphs">8.7</text>
<text x="505.70" y="207.30" font-size="6.4" fill="#4d4da8" stroke="#4d4da8" stroke-width="0.12" textLength="7.5" lengthAdjust="spacingAndGlyphs">87</text>
<rect x="340.5" y="226.3" width="43.80" height="44.50" fill="none" stroke="#c4c4c4" stroke-width="0.7"/>
<path d="M340.5,227.3 L340.5,270.8 L383.3,270.8" fill="none" stroke="#8c8c8c" stroke-width="0.8"/>
<path d="M340.8,246 C348,250 354,254 362,248 L366,260 C358,266 350,268 340.8,268 Z" fill="url(#gdown)" filter="url(#bl2)"/>
<path d="M340.8,246 C348,250 354,254 362,248 L366,260 C358,266 350,268 340.8,268 Z" fill="url(#spk)" opacity="0.5"/>
<g filter="url(#bl)">
<path d="M368.6,240.4 C365,244 360,249 356.1,253.9 C351,252.5 346,250.6 340.6,248.8" fill="none" stroke="#333" stroke-width="4.5" stroke-linejoin="round" filter="url(#bl2)"/>
<path d="M340.6,234.2 C350,233.4 360,234.4 366.2,237.4 C367.5,238.3 368.6,239.3 368.6,240.4 C365,244 360,249 356.1,253.9 C351,252.5 346,250.6 340.6,248.8 Z" fill="#eeeeee" stroke="#111" stroke-width="1.7" stroke-linejoin="round" />
<path d="M341.5,236 C348,235.5 354,236 358,237.5 L356,243 L341.5,243 Z" fill="#bdbdbd" stroke="none" stroke-width="1" stroke-linejoin="round" />
<path d="M342,238.3 L354,238.3" fill="none" stroke="#333" stroke-width="1.2" stroke-linejoin="round" />
<path d="M342,240.9 L353,240.9" fill="none" stroke="#444" stroke-width="1.1" stroke-linejoin="round" />
</g>
<line x1="368.50" y1="242.60" x2="368.50" y2="270.80" stroke="#b0b4e2" stroke-width="0.7" />
<line x1="378.10" y1="242.60" x2="378.10" y2="270.80" stroke="#b0b4e2" stroke-width="0.7" />
<line x1="368.50" y1="242.60" x2="378.10" y2="242.60" stroke="#b0b4e2" stroke-width="0.7" />
<text x="370.00" y="233.70" font-size="6.4" fill="#4d4da8" stroke="#4d4da8" stroke-width="0.12" textLength="14.2" lengthAdjust="spacingAndGlyphs">0.13</text>
<rect x="406.8" y="226.5" width="44.10" height="44.30" fill="none" stroke="#c4c4c4" stroke-width="0.7"/>
<path d="M406.8,227.5 L406.8,270.8 L449.9,270.8" fill="none" stroke="#8c8c8c" stroke-width="0.8"/>
<path d="M407,245 L430,245 C431,255 429,264 425,270.8 L407,270.8 Z" fill="url(#gdown2)" filter="url(#bl2)"/>
<path d="M407,245 L430,245 C431,255 429,264 425,270.8 L407,270.8 Z" fill="url(#spk)" opacity="0.5"/>
<g filter="url(#bl)">
<path d="M407.4,248 L419,248 M425,247.5 C428,247 431,245 434,242.5" fill="none" stroke="#333" stroke-width="4.0" stroke-linejoin="round" filter="url(#bl2)"/>
<path d="M407.4,235.9 C412,234.5 417,234 421,234.2 C424,234.5 426,235.3 427.7,236.4 C430.5,238 433,239.5 435.1,242 C432,244.5 429,246 426.6,246.6 L407.4,246.6 Z" fill="#f2f2f2" stroke="#111" stroke-width="1.4" stroke-linejoin="round" />
<path d="M408.2,237.5 C412,236.5 418,236.5 422,237.5 L422,244 L408.2,244 Z" fill="#c2c2c2" stroke="none" stroke-width="1" stroke-linejoin="round" />
<path d="M408.5,239.3 L420,239.3" fill="none" stroke="#333" stroke-width="1.2" stroke-linejoin="round" />
<path d="M408.5,242 L420,242" fill="none" stroke="#222" stroke-width="1.2" stroke-linejoin="round" />
<path d="M419.8,246.4 L423.3,246.4 L423,253.5 C422.5,254.8 420.5,254.8 420.1,253.5 Z" fill="#fafafa" stroke="#111" stroke-width="1.0" stroke-linejoin="round" />
</g>
<line x1="433.10" y1="234.70" x2="446.90" y2="234.70" stroke="#b0b4e2" stroke-width="0.7" />
<line x1="433.10" y1="234.70" x2="433.10" y2="270.80" stroke="#b0b4e2" stroke-width="0.7" />
<line x1="446.90" y1="234.70" x2="446.90" y2="270.80" stroke="#b0b4e2" stroke-width="0.7" />
<line x1="433.10" y1="245.40" x2="446.90" y2="245.40" stroke="#b0b4e2" stroke-width="0.7" />
<text x="436.70" y="242.70" font-size="6.4" fill="#4d4da8" stroke="#4d4da8" stroke-width="0.12" textLength="13.6" lengthAdjust="spacingAndGlyphs">0.48</text>
<text x="432.10" y="263.00" font-size="6.4" fill="#4d4da8" stroke="#4d4da8" stroke-width="0.12" textLength="18.1" lengthAdjust="spacingAndGlyphs">0.032</text>
<text x="279.90" y="75.80" font-size="9.0" fill="#1a1a1a" stroke="#1a1a1a" stroke-width="0.24" textLength="22.5" lengthAdjust="spacingAndGlyphs">CD45</text>
<text x="345.30" y="75.60" font-size="9.0" fill="#1a1a1a" stroke="#1a1a1a" stroke-width="0.24" textLength="22.5" lengthAdjust="spacingAndGlyphs">CD33</text>
<text x="407.00" y="75.80" font-size="9.0" fill="#1a1a1a" stroke="#1a1a1a" stroke-width="0.24" textLength="22.2" lengthAdjust="spacingAndGlyphs">CD33</text>
<text x="474.40" y="75.80" font-size="9.0" fill="#1a1a1a" stroke="#1a1a1a" stroke-width="0.24" textLength="22.5" lengthAdjust="spacingAndGlyphs">CD19</text>
<text x="345.30" y="139.20" font-size="9.0" fill="#1a1a1a" stroke="#1a1a1a" stroke-width="0.24" textLength="22.1" lengthAdjust="spacingAndGlyphs">CD34</text>
<text x="407.10" y="139.20" font-size="9.0" fill="#1a1a1a" stroke="#1a1a1a" stroke-width="0.24" textLength="22.4" lengthAdjust="spacingAndGlyphs">CD34</text>
<text x="279.90" y="220.00" font-size="9.0" fill="#1a1a1a" stroke="#1a1a1a" stroke-width="0.24" textLength="22.5" lengthAdjust="spacingAndGlyphs">CD45</text>
<text x="345.30" y="220.20" font-size="9.0" fill="#1a1a1a" stroke="#1a1a1a" stroke-width="0.24" textLength="22.1" lengthAdjust="spacingAndGlyphs">CD33</text>
<text x="407.00" y="220.40" font-size="9.0" fill="#1a1a1a" stroke="#1a1a1a" stroke-width="0.24" textLength="22.2" lengthAdjust="spacingAndGlyphs">CD33</text>
<text x="474.60" y="219.80" font-size="9.0" fill="#1a1a1a" stroke="#1a1a1a" stroke-width="0.24" textLength="21.2" lengthAdjust="spacingAndGlyphs">CD19</text>
<text x="346.00" y="284.90" font-size="9.0" fill="#1a1a1a" stroke="#1a1a1a" stroke-width="0.24" textLength="21.4" lengthAdjust="spacingAndGlyphs">CD34</text>
<text x="407.10" y="284.90" font-size="9.0" fill="#1a1a1a" stroke="#1a1a1a" stroke-width="0.24" textLength="22.4" lengthAdjust="spacingAndGlyphs">CD34</text>
<text transform="translate(270.30,49.60) rotate(-90)" font-size="9.0" fill="#1a1a1a" stroke="#1a1a1a" stroke-width="0.24" text-anchor="middle" textLength="18.1" lengthAdjust="spacingAndGlyphs">DAPI</text>
<text transform="translate(335.30,47.10) rotate(-90)" font-size="9.0" fill="#1a1a1a" stroke="#1a1a1a" stroke-width="0.24" text-anchor="middle" textLength="20.5" lengthAdjust="spacingAndGlyphs">CD14</text>
<text transform="translate(401.80,46.70) rotate(-90)" font-size="9.0" fill="#1a1a1a" stroke="#1a1a1a" stroke-width="0.24" text-anchor="middle" textLength="21.4" lengthAdjust="spacingAndGlyphs">CD15</text>
<text transform="translate(463.70,50.50) rotate(-90)" font-size="9.0" fill="#1a1a1a" stroke="#1a1a1a" stroke-width="0.24" text-anchor="middle" textLength="16.2" lengthAdjust="spacingAndGlyphs">CD7</text>
<text transform="translate(335.30,109.70) rotate(-90)" font-size="9.0" fill="#1a1a1a" stroke="#1a1a1a" stroke-width="0.24" text-anchor="middle" textLength="22.1" lengthAdjust="spacingAndGlyphs">CD38</text>
<text transform="translate(401.80,104.60) rotate(-90)" font-size="9.0" fill="#1a1a1a" stroke="#1a1a1a" stroke-width="0.24" text-anchor="middle" textLength="32.4" lengthAdjust="spacingAndGlyphs">CD45RA</text>
<text transform="translate(270.30,194.20) rotate(-90)" font-size="9.0" fill="#1a1a1a" stroke="#1a1a1a" stroke-width="0.24" text-anchor="middle" textLength="17.2" lengthAdjust="spacingAndGlyphs">DAPI</text>
<text transform="translate(335.30,188.70) rotate(-90)" font-size="9.0" fill="#1a1a1a" stroke="#1a1a1a" stroke-width="0.24" text-anchor="middle" textLength="20.6" lengthAdjust="spacingAndGlyphs">CD14</text>
<text transform="translate(401.80,191.50) rotate(-90)" font-size="9.0" fill="#1a1a1a" stroke="#1a1a1a" stroke-width="0.24" text-anchor="middle" textLength="21.3" lengthAdjust="spacingAndGlyphs">CD15</text>
<text transform="translate(463.10,197.40) rotate(-90)" font-size="9.0" fill="#1a1a1a" stroke="#1a1a1a" stroke-width="0.24" text-anchor="middle" textLength="13.5" lengthAdjust="spacingAndGlyphs">CD7</text>
<text transform="translate(335.30,254.00) rotate(-90)" font-size="9.0" fill="#1a1a1a" stroke="#1a1a1a" stroke-width="0.24" text-anchor="middle" textLength="22.1" lengthAdjust="spacingAndGlyphs">CD38</text>
<text transform="translate(401.80,250.00) rotate(-90)" font-size="9.0" fill="#1a1a1a" stroke="#1a1a1a" stroke-width="0.24" text-anchor="middle" textLength="33.2" lengthAdjust="spacingAndGlyphs">CD45RA</text>
</svg>
</body></html>
